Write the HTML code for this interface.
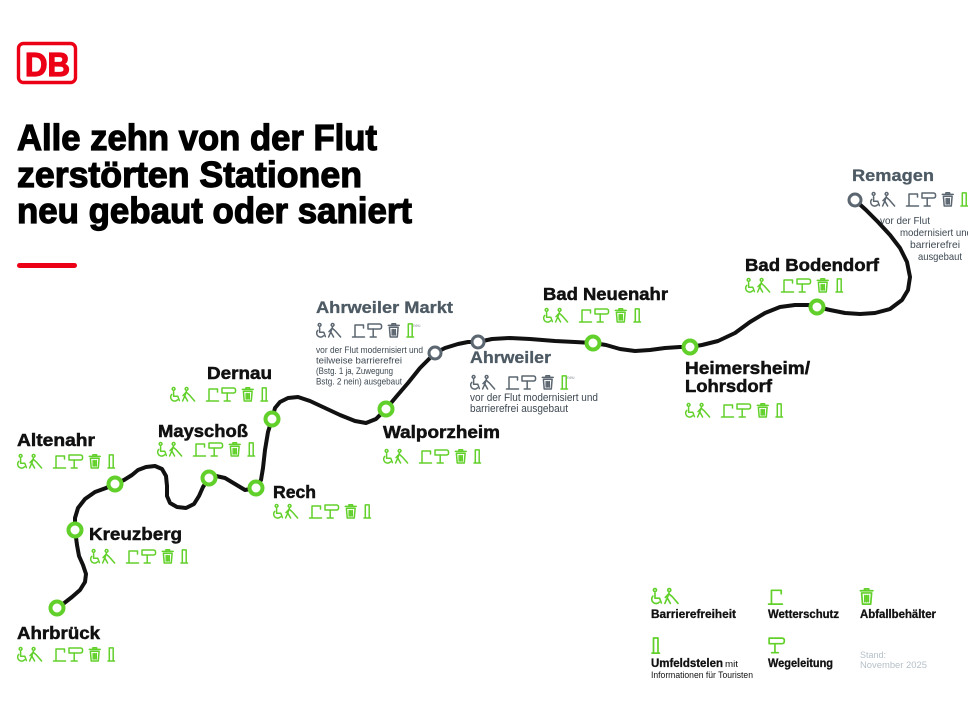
<!DOCTYPE html>
<html><head><meta charset="utf-8"><style>
html,body{margin:0;padding:0;background:#fff;}
svg{display:block;}
text{font-family:"Liberation Sans",sans-serif;}
</style></head><body>
<svg width="968" height="726" viewBox="0 0 968 726" xmlns="http://www.w3.org/2000/svg">
<defs>
<g id="acc" fill="none" stroke-width="1.5" stroke-linecap="round" stroke-linejoin="round">
  <circle cx="3.6" cy="1.9" r="1.4"/>
  <path d="M3.6,4.6 V9.3 H7.8 L9.4,13.6"/>
  <path d="M1.7,7.4 A3.8,3.8 0 1 0 7.6,12.8"/>
  <circle cx="16.6" cy="1.9" r="1.4"/>
  <path d="M16.4,4.3 L14.8,9 L12.6,14 M14.8,9 L17.6,14 M16.2,5.2 L13,8.6 M16.2,5.2 L19.6,8.2 L24.6,14"/>
</g>
<g id="shel" fill="none" stroke-width="1.5" stroke-linecap="round" stroke-linejoin="round">
  <path d="M3,2 H11.5 V5 M3,2 V14 M0.5,14 H12.5"/>
</g>
<g id="sign" fill="none" stroke-width="1.5" stroke-linecap="round" stroke-linejoin="round">
  <path d="M1,1 H12.5 Q14.6,1 14.6,3.5 Q14.6,6 12.5,6 H1 Z"/>
  <path d="M6.2,6 V14 M3.2,14 H9.2"/>
</g>
<g id="bin" fill="none" stroke-width="1.5" stroke-linecap="round" stroke-linejoin="round">
  <path d="M0.3,2.4 H11.2 M3.9,2.4 V0.8 H7.6 V2.4"/>
  <path d="M1.4,4.3 L2.2,14 H9.3 L10.1,4.3 Z"/>
  <path d="M4.2,6.5 V12 M5.75,6.5 V12 M7.3,6.5 V12"/>
</g>
<g id="stele" fill="none" stroke-width="1.5" stroke-linecap="round" stroke-linejoin="round">
  <path d="M1.3,0.9 H5.2 V14 H1.3 Z M0,14 H6.5"/>
</g>
<g id="setg" stroke="#62d02a">
  <use href="#acc"/>
  <use href="#shel" x="36"/>
  <use href="#sign" x="51"/>
  <use href="#bin" x="72"/>
  <use href="#stele" x="91"/>
</g>
<g id="setgray">
  <g stroke="#5b6670">
  <use href="#acc"/>
  <use href="#shel" x="36"/>
  <use href="#sign" x="51"/>
  <use href="#bin" x="72"/>
  </g>
  <g stroke="#62d02a"><use href="#stele" x="91"/></g>
</g>
</defs>

<!-- DB logo -->
<rect x="18.5" y="43.5" width="57" height="39" rx="5" ry="5" fill="#fff" stroke="#ec0016" stroke-width="3.4"/>
<text x="25" y="76" font-size="33" font-weight="bold" fill="#ec0016" stroke="#ec0016" stroke-width="1.2" textLength="45" lengthAdjust="spacingAndGlyphs">DB</text>

<!-- Title -->
<g font-size="36" font-weight="bold" fill="#000" stroke="#000" stroke-width="1.2">
<text x="17" y="150" textLength="360" lengthAdjust="spacingAndGlyphs">Alle zehn von der Flut</text>
<text x="17" y="187" textLength="345" lengthAdjust="spacingAndGlyphs">zerstörten Stationen</text>
<text x="17" y="223" textLength="395" lengthAdjust="spacingAndGlyphs">neu gebaut oder saniert</text>
</g>
<rect x="17" y="263" width="60" height="5" rx="2.5" fill="#ec0016"/>

<!-- Line -->
<polyline fill="none" stroke="#111" stroke-width="4" stroke-linejoin="round" stroke-linecap="round" points="
57,608 63,604 72,597 80,590 85,582 86,574 83,565 79,556 77,545 75,530
75,518 78,508 85,499 95,492 106,488 115,484
124,480 132,475 138,470 146,467 155,466 162,469 166,476 167,486 167,496 170,503 177,507 186,508 194,504 199,496 203,487 209,478
216,476 225,478 235,484 245,490 256,488
261,480 263,468 265,450 268,432 272,419
275,408 280,402 288,398 298,397 310,401 325,408 340,415 355,421 366,423 376,419 386,409
396,397 408,383 420,368 435,353
445,348 458,344 468,342 478,342
492,339 510,338 530,339 555,341 575,342 593,343
606,345 620,349 635,351 650,350 665,348 680,347 690,347
702,345 718,341 735,333 750,322 765,313 780,307 795,305 808,305 817,307
830,310 845,313 860,314 875,313 890,309 902,300 908,290 910,277 907,262 900,248 890,235 878,222 866,210 855,200"/>

<!-- Station circles -->
<g fill="#fff" stroke="#62d02a" stroke-width="4">
<circle cx="57" cy="608" r="6.5"/>
<circle cx="75" cy="530" r="6.5"/>
<circle cx="115" cy="484" r="6.5"/>
<circle cx="209" cy="478" r="6.5"/>
<circle cx="256" cy="488" r="6.5"/>
<circle cx="272" cy="419" r="6.5"/>
<circle cx="386" cy="409" r="6.5"/>
<circle cx="593" cy="343" r="6.5"/>
<circle cx="690" cy="347" r="6.5"/>
<circle cx="817" cy="307" r="6.5"/>
</g>
<g fill="#fff" stroke="#5b6670" stroke-width="3">
<circle cx="435" cy="353" r="6"/>
<circle cx="478" cy="342" r="6"/>
<circle cx="855" cy="200" r="6"/>
</g>

<!-- Station names -->
<g font-size="17.5" font-weight="bold" fill="#111" stroke="#111" stroke-width="0.5">
<text x="17" y="446" textLength="78" lengthAdjust="spacingAndGlyphs">Altenahr</text>
<text x="89" y="540" textLength="93" lengthAdjust="spacingAndGlyphs">Kreuzberg</text>
<text x="158" y="437" textLength="90" lengthAdjust="spacingAndGlyphs">Mayschoß</text>
<text x="207" y="379" textLength="65" lengthAdjust="spacingAndGlyphs">Dernau</text>
<text x="273" y="498" textLength="43" lengthAdjust="spacingAndGlyphs">Rech</text>
<text x="383" y="438" textLength="117" lengthAdjust="spacingAndGlyphs">Walporzheim</text>
<text x="543" y="300" textLength="125" lengthAdjust="spacingAndGlyphs">Bad Neuenahr</text>
<text x="685" y="374" textLength="125" lengthAdjust="spacingAndGlyphs">Heimersheim/</text>
<text x="685" y="392" textLength="87" lengthAdjust="spacingAndGlyphs">Lohrsdorf</text>
<text x="745" y="271" textLength="134" lengthAdjust="spacingAndGlyphs">Bad Bodendorf</text>
<text x="17" y="639" textLength="83" lengthAdjust="spacingAndGlyphs">Ahrbrück</text>
</g>
<g font-size="17" font-weight="bold" fill="#4d5a64" stroke="#4d5a64" stroke-width="0.3">
<text x="316" y="313" textLength="137" lengthAdjust="spacingAndGlyphs">Ahrweiler Markt</text>
<text x="470" y="363" textLength="81" lengthAdjust="spacingAndGlyphs">Ahrweiler</text>
<text x="852" y="181" textLength="82" lengthAdjust="spacingAndGlyphs">Remagen</text>
</g>

<!-- Icon sets -->
<use href="#setg" x="17" y="454"/>
<use href="#setg" x="90" y="549"/>
<use href="#setg" x="157" y="442"/>
<use href="#setg" x="170" y="387"/>
<use href="#setg" x="273" y="504"/>
<use href="#setg" x="383" y="449"/>
<use href="#setg" x="543" y="308"/>
<use href="#setg" x="685" y="403"/>
<use href="#setg" x="745" y="278"/>
<use href="#setg" x="17" y="647"/>
<use href="#setgray" x="316" y="323"/>
<use href="#setgray" x="470" y="375"/>
<use href="#setgray" x="870" y="192"/>
<g font-size="4.5" fill="#8a949c">
<text x="413" y="327">neu</text>
<text x="567" y="379">neu</text>
</g>

<!-- Notes -->
<g font-size="9.5" fill="#3d4852">
<text x="316" y="353" textLength="107" lengthAdjust="spacingAndGlyphs">vor der Flut modernisiert und</text>
<text x="316" y="363.5" textLength="86" lengthAdjust="spacingAndGlyphs">teilweise barrierefrei</text>
<text x="316" y="374" textLength="77" lengthAdjust="spacingAndGlyphs">(Bstg. 1 ja, Zuwegung</text>
<text x="316" y="384.5" textLength="86" lengthAdjust="spacingAndGlyphs">Bstg. 2 nein) ausgebaut</text>
</g>
<g font-size="11" fill="#3d4852">
<text x="470" y="401" textLength="128" lengthAdjust="spacingAndGlyphs">vor der Flut modernisiert und</text>
<text x="470" y="412" textLength="98" lengthAdjust="spacingAndGlyphs">barrierefrei ausgebaut</text>
</g>
<g font-size="10.5" fill="#3d4852">
<text x="880" y="224" textLength="50" lengthAdjust="spacingAndGlyphs">vor der Flut</text>
<text x="900" y="236" textLength="72" lengthAdjust="spacingAndGlyphs">modernisiert und</text>
<text x="910" y="248" textLength="50" lengthAdjust="spacingAndGlyphs">barrierefrei</text>
<text x="918" y="260" textLength="44" lengthAdjust="spacingAndGlyphs">ausgebaut</text>
</g>

<!-- Legend -->
<g stroke="#62d02a">
<use href="#acc" transform="translate(651,588) scale(1.1)"/>
<use href="#shel" transform="translate(768,588) scale(1.15)"/>
<use href="#bin" transform="translate(860,588) scale(1.15)"/>
<use href="#stele" transform="translate(652,637) scale(1.15)"/>
<use href="#sign" transform="translate(768,637) scale(1.12)"/>
</g>
<g font-size="11.5" font-weight="bold" fill="#111" stroke="#111" stroke-width="0.3">
<text x="651" y="618" textLength="85" lengthAdjust="spacingAndGlyphs">Barrierefreiheit</text>
<text x="768" y="618" textLength="71" lengthAdjust="spacingAndGlyphs">Wetterschutz</text>
<text x="860" y="618" textLength="76" lengthAdjust="spacingAndGlyphs">Abfallbehälter</text>
<text x="651" y="667" textLength="72" lengthAdjust="spacingAndGlyphs">Umfeldstelen</text>
<text x="768" y="667" textLength="65" lengthAdjust="spacingAndGlyphs">Wegeleitung</text>
</g>
<text x="725" y="667" font-size="9" fill="#111" textLength="13" lengthAdjust="spacingAndGlyphs">mit</text>
<text x="651" y="678" font-size="9" fill="#111" textLength="102" lengthAdjust="spacingAndGlyphs">Informationen für Touristen</text>
<g font-size="9.5" fill="#b5c0c8">
<text x="860" y="658" textLength="26" lengthAdjust="spacingAndGlyphs">Stand:</text>
<text x="860" y="668" textLength="67" lengthAdjust="spacingAndGlyphs">November 2025</text>
</g>
</svg>
</body></html>
